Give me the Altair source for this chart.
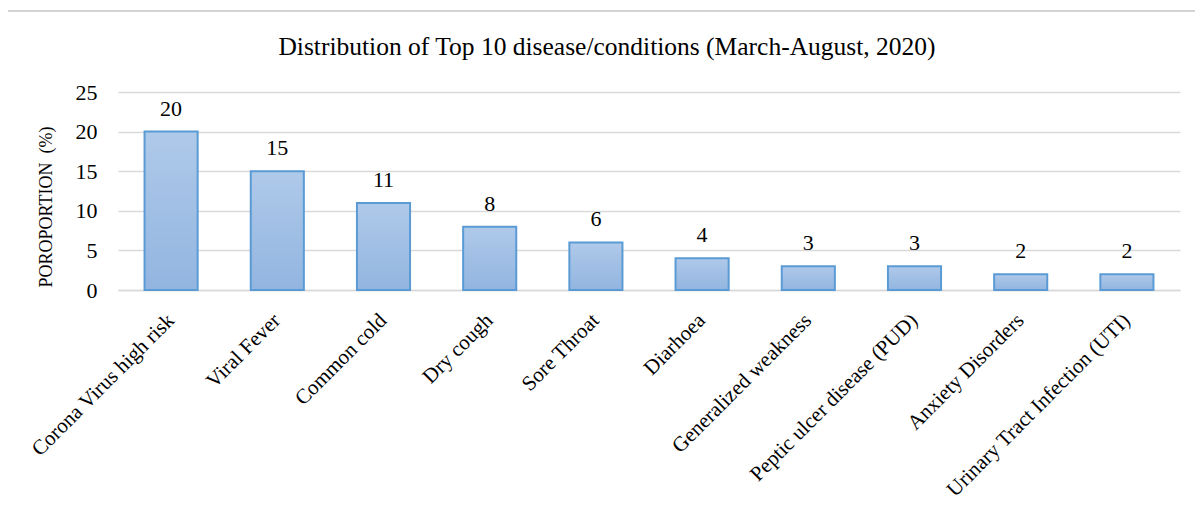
import altair as alt
import pandas as pd

categories = [
    "Corona Virus high risk", "Viral Fever", "Common cold", "Dry cough",
    "Sore Throat", "Diarhoea", "Generalized weakness",
    "Peptic ulcer disease (PUD)", "Anxiety Disorders",
    "Urinary Tract Infection (UTI)",
]
values = [20, 15, 11, 8, 6, 4, 3, 3, 2, 2]
y_ticks = [0, 5, 10, 15, 20, 25]
title_text = "Distribution of Top 10 disease/conditions (March-August, 2020)"
y_title = "POROPORTION\u00a0\u00a0(%)"

df = pd.DataFrame({"cat": categories, "val": values})
FONT = "Liberation Serif"

gradient = alt.Gradient(
    gradient="linear",
    stops=[alt.GradientStop(color="#afc9e9", offset=0),
           alt.GradientStop(color="#92b5e0", offset=1)],
    x1=0, x2=0, y1=0, y2=1,
)

x = alt.X("cat:N", sort=categories, title=None,
          scale=alt.Scale(paddingInner=0.5, paddingOuter=0.25),
          axis=alt.Axis(labelAngle=-45, labelAlign="right", labelBaseline="middle",
                        labelPadding=27, labelFontSize=21, labelFont=FONT,
                        labelColor="#000000", ticks=False, domainColor="#d9d9d9",
                        domainWidth=1.5, labelLimit=400))
y = alt.Y("val:Q", title=y_title,
          scale=alt.Scale(domain=[0, 25], nice=False),
          axis=alt.Axis(values=y_ticks, ticks=False, domain=False, gridColor="#d9d9d9",
                        gridWidth=1.5, labelFontSize=22, labelFont=FONT,
                        labelColor="#000000", labelPadding=21,
                        titleFont=FONT, titleFontSize=18, titleFontWeight="normal",
                        titleColor="#000000", titleX=-72, titleY=114.5,
                        titleAngle=270, titleAlign="center", titleBaseline="middle"))

bars = alt.Chart(df).mark_bar(fill=gradient, stroke="#5b9bd5", strokeWidth=2).encode(x=x, y=y)
labels = alt.Chart(df).mark_text(font=FONT, fontSize=22, dy=-16, baseline="alphabetic",
                                 color="#000000").encode(x=x, y=y, text="val:Q")

frame_df = pd.DataFrame({"k": [0]})
left_border = alt.Chart(frame_df).mark_rule(color="#d4d4d4", strokeWidth=2).encode(
    x=alt.value(-113), y=alt.value(-81), y2=alt.value(419))
top_border = alt.Chart(frame_df).mark_rule(color="#d4d4d4", strokeWidth=2).encode(
    x=alt.value(-113), x2=alt.value(1085), y=alt.value(-81))
title = alt.Chart(frame_df).mark_text(font=FONT, fontSize=25.5, color="#000000",
                                      align="center", baseline="middle").encode(
    x=alt.value(489), y=alt.value(-45), text=alt.value(title_text))

chart = alt.layer(bars, labels, left_border, top_border, title).properties(
    width=1062, height=198,
    autosize=alt.AutoSizeParams(type="none"),
    padding={"left": 110, "top": 84, "right": 15, "bottom": 212},
).configure_view(stroke=None)

chart.save("out.html", embed_options={"renderer": "svg", "actions": False})
